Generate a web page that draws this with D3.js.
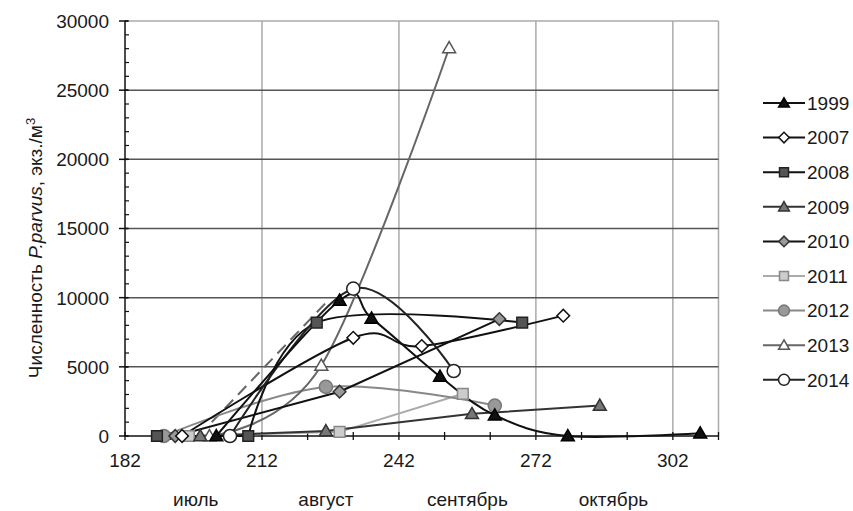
<!DOCTYPE html>
<html><head><meta charset="utf-8">
<script src="https://cdn.jsdelivr.net/npm/d3@7"></script>
<style>body{margin:0;background:#fff}text{font-family:"Liberation Sans",Arial,sans-serif;fill:#1a1a1a}</style>
</head><body><svg id="c" width="853" height="511"></svg>
<script>
// ---- data ----
const years = ["1999","2007","2008","2009","2010","2011","2012","2013","2014"];
const days1999 = [202, 229, 236, 251, 263, 279, 308];
const vals1999 = [0, 9800, 8500, 4300, 1500, 0, 200];
const days2007 = [194.5, 232, 247, 278];
const vals2007 = [0, 7100, 6500, 8700];
const days2008 = [189, 209, 224, 269];
const vals2008 = [0, 0, 8200, 8200];
const days2009 = [198.5, 226, 258, 286];
const vals2009 = [0, 360, 1600, 2200];
const days2010 = [193, 229, 264];
const vals2010 = [0, 3200, 8450];
const days2011 = [196, 229, 256];
const vals2011 = [0, 300, 3050];
const days2012 = [190.5, 226, 263];
const vals2012 = [0, 3550, 2200];
const days2013 = [200.5, 225, 253];
const vals2013 = [0, 5100, 28050];
const days2014 = [205, 232, 254];
const vals2014 = [0, 10650, 4700];
const dashDays = [201, 226.5];
const dashVals = [1000, 9800];
const xTickLabels = [182, 212, 242, 272, 302];
const yTickLabels = [0, 5000, 10000, 15000, 20000, 25000, 30000];
const months = ["июль", "август", "сентябрь", "октябрь"];
const monthDays = [197.5, 226, 257, 289];

// ---- styles ----
const style = {
  "1999": {sym: "tri", fill: "#111", stroke: "#000", line: "#111", smooth: true},
  "2007": {sym: "dia", fill: "#fff", stroke: "#111", line: "#111", smooth: true},
  "2008": {sym: "sq", fill: "#555", stroke: "#222", line: "#111", smooth: true},
  "2009": {sym: "tri", fill: "#777", stroke: "#333", line: "#333", smooth: false},
  "2010": {sym: "dia", fill: "#999", stroke: "#333", line: "#111", smooth: false},
  "2011": {sym: "sq", fill: "#ccc", stroke: "#888", line: "#aaa", smooth: false},
  "2012": {sym: "cir", fill: "#999", stroke: "#777", line: "#888", smooth: true},
  "2013": {sym: "tri", fill: "#fff", stroke: "#555", line: "#666", smooth: true},
  "2014": {sym: "cir", fill: "#fff", stroke: "#222", line: "#222", smooth: true}
};
const seriesData = {
  "1999": [days1999, vals1999], "2007": [days2007, vals2007], "2008": [days2008, vals2008],
  "2009": [days2009, vals2009], "2010": [days2010, vals2010], "2011": [days2011, vals2011],
  "2012": [days2012, vals2012], "2013": [days2013, vals2013], "2014": [days2014, vals2014]
};

const svg = d3.select("#c");
const L = 125, R = 718.5, T = 21, B = 436;
const x = d3.scaleLinear().domain([182, 312]).range([L, R]);
const y = d3.scaleLinear().domain([0, 30000]).range([B, T]);
const FS = 19;

// grid
const g = svg.append("g");
g.selectAll("line.vg").data([212, 242, 272, 302, 312]).join("line")
  .attr("x1", d => x(d)).attr("x2", d => x(d)).attr("y1", T).attr("y2", B)
  .attr("stroke", "#aaa").attr("stroke-width", 1.5);
g.append("line").attr("x1", L).attr("x2", R).attr("y1", y(30000)).attr("y2", y(30000))
  .attr("stroke", "#aaa").attr("stroke-width", 1.5);
g.selectAll("line.hg").data([5000, 10000, 15000, 20000, 25000]).join("line")
  .attr("x1", L).attr("x2", R).attr("y1", d => y(d)).attr("y2", d => y(d))
  .attr("stroke", "#555").attr("stroke-width", 1.5);

// y axis
const yAx = svg.append("g").attr("transform", `translate(${L},0)`);
yAx.append("line").attr("x1", 0).attr("x2", 0).attr("y1", T).attr("y2", B).attr("stroke", "#111").attr("stroke-width", 1.5);
yAx.selectAll("line.mn").data(d3.range(0, 30001, 1000)).join("line")
  .attr("x1", 0).attr("x2", 4).attr("y1", d => y(d)).attr("y2", d => y(d)).attr("stroke", "#111").attr("stroke-width", 1.2);
yAx.selectAll("line.mj").data(yTickLabels).join("line")
  .attr("x1", -6).attr("x2", 3).attr("y1", d => y(d)).attr("y2", d => y(d)).attr("stroke", "#111").attr("stroke-width", 1.5);
yAx.selectAll("text").data(yTickLabels).join("text")
  .attr("x", -16).attr("y", d => y(d)).attr("dy", "0.36em").attr("text-anchor", "end")
  .attr("font-size", FS).text(d => d);

// x axis
const xAx = svg.append("g").attr("transform", `translate(0,${B})`);
xAx.append("line").attr("x1", L).attr("x2", R).attr("stroke", "#111").attr("stroke-width", 1.5);
xAx.selectAll("line.t").data(d3.range(182, 313, 10)).join("line")
  .attr("x1", d => x(d)).attr("x2", d => x(d)).attr("y1", -4).attr("y2", 4).attr("stroke", "#111").attr("stroke-width", 1.3);
xAx.selectAll("text.t").data(xTickLabels).join("text")
  .attr("x", d => x(d)).attr("y", 31).attr("text-anchor", "middle").attr("font-size", FS).text(d => d);
xAx.selectAll("text.m").data(months).join("text")
  .attr("x", (d, i) => x(monthDays[i])).attr("y", 70).attr("text-anchor", "middle").attr("font-size", FS).text(d => d);

// y title
const yt = svg.append("text").attr("transform", "translate(42,248) rotate(-90)")
  .attr("text-anchor", "middle").attr("font-size", FS);
yt.append("tspan").text("Численность ");
yt.append("tspan").attr("font-style", "italic").text("P.parvus");
yt.append("tspan").text(", экз./м");
yt.append("tspan").attr("font-size", 13).attr("dy", -7).text("3");

// symbols
function symPath(kind, scale) {
  if (kind === "tri") return d3.symbol(d3.symbolTriangle, 72 * scale)();
  if (kind === "sq") return d3.symbol(d3.symbolSquare, 115 * scale)();
  if (kind === "dia") return d3.symbol(d3.symbolSquare, 80 * scale)();
  return d3.symbol(d3.symbolCircle, 135 * scale)();
}
function drawMarker(sel, st, cx, cy, scale) {
  sel.append("path").attr("d", symPath(st.sym, scale))
    .attr("transform", `translate(${cx},${cy})` + (st.sym === "dia" ? " rotate(45)" : "") + (st.sym === "tri" ? " translate(0,1)" : ""))
    .attr("fill", st.fill).attr("stroke", st.stroke).attr("stroke-width", 1.5);
}

const lineSmooth = d3.line().x(d => x(d[0])).y(d => y(d[1])).curve(d3.curveCardinal.tension(0));
const lineStraight = d3.line().x(d => x(d[0])).y(d => y(d[1]));

// dashed line
svg.append("path").datum(d3.zip(dashDays, dashVals)).attr("d", lineStraight)
  .attr("fill", "none").attr("stroke", "#666").attr("stroke-width", 2).attr("stroke-dasharray", "12,7");

const drawOrder = ["2011", "2012", "2013", "2009", "2010", "2007", "2008", "2014", "1999"];
drawOrder.forEach(yr => {
  const st = style[yr];
  const pts = d3.zip(seriesData[yr][0], seriesData[yr][1]);
  if (!st.smooth) {
    svg.append("path").datum(pts).attr("d", lineStraight)
      .attr("fill", "none").attr("stroke", st.line).attr("stroke-width", 2);
    return;
  }
  // leading zeros joined straight along the baseline, rest smoothed
  let k = 0;
  while (k + 1 < pts.length && pts[k + 1][1] === 0) k++;
  if (k > 0) {
    svg.append("path").datum(pts.slice(0, k + 1)).attr("d", lineStraight)
      .attr("fill", "none").attr("stroke", st.line).attr("stroke-width", 2);
  }
  svg.append("path").datum(pts.slice(k)).attr("d", lineSmooth)
    .attr("fill", "none").attr("stroke", st.line).attr("stroke-width", 2);
});
drawOrder.forEach(yr => {
  const st = style[yr];
  const pts = d3.zip(seriesData[yr][0], seriesData[yr][1]);
  const mg = svg.append("g");
  pts.forEach(p => drawMarker(mg, st, x(p[0]), y(p[1]), 1));
});

// legend
const lg = svg.append("g");
years.forEach((yr, i) => {
  const st = style[yr];
  const cy = 103 + i * 34.6;
  lg.append("line").attr("x1", 763).attr("x2", 805).attr("y1", cy).attr("y2", cy)
    .attr("stroke", st.line).attr("stroke-width", 2);
  drawMarker(lg, st, 784, cy, 0.7);
  lg.append("text").attr("x", 807).attr("y", cy).attr("dy", "0.36em").attr("font-size", FS).text(yr);
});
</script></body></html>
